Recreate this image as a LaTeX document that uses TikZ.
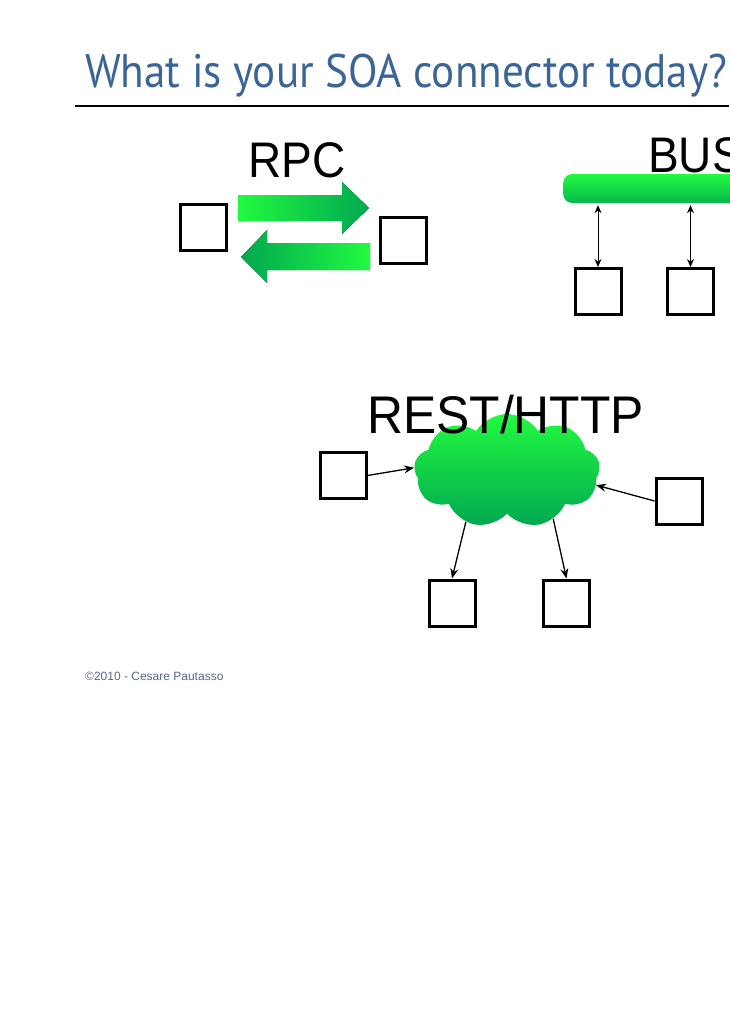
\documentclass[tikz,border=0pt]{standalone}
\usepackage{fontspec}
\setmainfont{Liberation Sans}
\newfontfamily\titlefont{PT Sans}
\usetikzlibrary{shapes.symbols,arrows.meta}
\definecolor{gbright}{RGB}{34,250,64}
\definecolor{gdark}{RGB}{0,168,80}
\definecolor{titleblue}{RGB}{59,101,150}
\definecolor{footgrey}{RGB}{85,105,135}
\begin{document}
\begin{tikzpicture}[x=1pt,y=-1pt,
 box/.style={draw=black,line width=3pt,minimum size=46pt,inner sep=0pt,fill=white},
 conn/.style={line width=1.3pt,-{Stealth[length=10pt,width=8pt]}},
 busconn/.style={line width=1pt,{Stealth[length=8pt,width=7pt]}-{Stealth[length=8pt,width=7pt]}},
 big/.style={font=\fontsize{50}{50}\selectfont,inner sep=0pt,anchor=base west}]
\useasboundingbox (0,0) rectangle (729,1030);

% title
\node[anchor=base west,inner sep=0pt,text=titleblue,font=\titlefont\fontsize{47}{47}\selectfont] (title) at (85,88) {\resizebox{642pt}{\height}{What is your SOA connector today?}};
\coordinate (rl) at (75,106);
\coordinate (rr) at (729,106);
\draw[line width=1.2pt] (rl) -- (rr);

% RPC
\node[big] (rpc) at (248,177) {\scalebox{0.92}[1]{RPC}};
\node[box] (a1) at (203.5,227) {};
\node[box] (a2) at (403.5,240.5) {};
\fill[left color=gbright,right color=gdark] (238,195) -- (342,195) -- (342,182) -- (369,208) -- (342,234) -- (342,221) -- (238,221) -- cycle;
\fill[left color=gdark,right color=gbright] (370,243) -- (267,243) -- (267,230) -- (241,257) -- (267,283) -- (267,270) -- (370,270) -- cycle;

% BUS
\node[big] (bus) at (648,172) {\scalebox{0.92}[1]{BUS}};
\node[rectangle,rounded corners=9pt,top color=gbright,bottom color=gdark!80!gbright,minimum width=180pt,minimum height=29pt,inner sep=0pt,anchor=west] (bar) at (563,188.5) {};
\node[box] (b1) at (598,291.5) {};
\node[box] (b2) at (690.5,291.5) {};
\draw[busconn,shorten <=2pt] (bar.south -| b1.north) -- (b1.north);
\draw[busconn,shorten <=2pt] (bar.south -| b2.north) -- (b2.north);

% REST/HTTP
\node[cloud,cloud puffs=9,cloud puff arc=115,aspect=1.7,minimum width=186pt,minimum height=114pt,inner sep=0pt,top color=gbright,bottom color=gdark,draw=none] (cloud) at (507,471) {};
\node[big,font=\fontsize{53}{53}\selectfont] (rest) at (367,433) {\scalebox{0.94}[1]{REST/HTTP}};
\node[box] (sL) at (343,475.5) {};
\node[box] (sR) at (679,501) {};
\node[box] (sBL) at (452,603) {};
\node[box] (sBR) at (566.5,603) {};
\draw[conn] (sL.east) -- (cloud.178);
\draw[conn] (sR.west) -- (cloud.-9);
\draw[conn] (cloud.-129) -- (sBL.north);
\draw[conn] (cloud.-46) -- (sBR.north);

% footer
\node[anchor=base west,inner sep=0pt,font=\fontsize{12}{12}\selectfont,text=footgrey] (foot) at (85,680) {©2010 - Cesare Pautasso};
\end{tikzpicture}
\end{document}
